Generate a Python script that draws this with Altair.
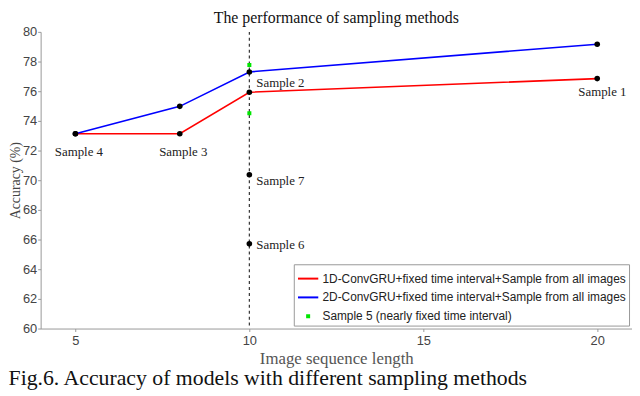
import altair as alt
import pandas as pd

SERIF = "Liberation Serif"
SANS = "Liberation Sans"

# ---- data ----
series_names = [
    "1D-ConvGRU+fixed time interval+Sample from all images",
    "2D-ConvGRU+fixed time interval+Sample from all images",
    "Sample 5 (nearly fixed time interval)",
]
series_colors = ["#ff0000", "#0000ff", "#00e600"]
series_shapes = ["stroke", "stroke", "M-0.1,-0.1H0.1V0.1H-0.1Z"]

len_1d = [5, 8, 10, 20]
acc_1d = [73.13, 73.13, 75.93, 76.85]
len_2d = [5, 8, 10, 20]
acc_2d = [73.13, 74.98, 77.30, 79.17]

s5_len = [10, 10]
s5_acc = [77.76, 74.52]

other_len = [10, 10]          # Sample 7, Sample 6
other_acc = [70.37, 65.71]

dash_x = [10]

lbl_c_text = ["Sample 4", "Sample 3", "Sample 1"]
lbl_c_x = [5.1, 8.1, 20.15]
lbl_c_y = [71.9, 71.9, 75.96]

lbl_l_text = ["Sample 2", "Sample 7", "Sample 6"]
lbl_l_x = [10.2, 10.2, 10.2]
lbl_l_y = [76.57, 69.93, 65.64]

x_ticks = [5, 10, 15, 20]
y_ticks = list(range(60, 81, 2))

# ---- tables ----
lines_df = pd.concat([
    pd.DataFrame({"series": series_names[0], "len": len_1d, "acc": acc_1d}),
    pd.DataFrame({"series": series_names[1], "len": len_2d, "acc": acc_2d}),
])
black_df = pd.DataFrame({"len": len_1d + len_2d + other_len,
                         "acc": acc_1d + acc_2d + other_acc})
s5_df = pd.DataFrame({"series": series_names[2], "len": s5_len, "acc": s5_acc})
dash_df = pd.DataFrame({"len": dash_x})
lc_df = pd.DataFrame({"t": lbl_c_text, "len": lbl_c_x, "acc": lbl_c_y})
ll_df = pd.DataFrame({"t": lbl_l_text, "len": lbl_l_x, "acc": lbl_l_y})

xscale = alt.Scale(domain=[4, 21], nice=False, zero=False)
yscale = alt.Scale(domain=[60, 80], nice=False, zero=False)
cscale = alt.Scale(domain=series_names, range=series_colors)
sscale = alt.Scale(domain=series_names, range=series_shapes)

xaxis = alt.Axis(values=x_ticks, title="Image sequence length", grid=False,
                 tickSize=3, labelPadding=3, titlePadding=3)
yaxis = alt.Axis(values=y_ticks, title="Accuracy (%)", grid=False,
                 tickSize=3, labelPadding=1, titlePadding=0, labelOverlap=False)

X = alt.X("len:Q", scale=xscale, axis=xaxis)
Y = alt.Y("acc:Q", scale=yscale, axis=yaxis)

legend = alt.Legend(title=None, orient="bottom-right", offset=3,
                    labelFont=SANS, labelFontSize=12, labelColor="#222",
                    labelLimit=0,
                    strokeColor="#999", fillColor="white", padding=3,
                    rowPadding=1, labelOffset=3, symbolSize=420,
                    symbolStrokeWidth=2, symbolOpacity=1)

lines = alt.Chart(lines_df).mark_line(strokeWidth=1.6).encode(
    x=X, y=Y,
    color=alt.Color("series:N", scale=cscale, legend=legend),
    detail="series:N",
)

dash = alt.Chart(dash_df).mark_rule(color="#333", strokeDash=[3, 3], strokeWidth=1.2).encode(
    x=X
)

dots = alt.Chart(black_df).mark_circle(size=32, color="black", opacity=1).encode(
    x=X, y=Y
)

greens = alt.Chart(s5_df).mark_point(filled=False, strokeWidth=2, opacity=1, size=420).encode(
    x=X, y=Y,
    color=alt.Color("series:N", scale=cscale, legend=legend),
    shape=alt.Shape("series:N", scale=sscale, legend=legend),
)

lab_c = alt.Chart(lc_df).mark_text(font=SERIF, fontSize=13, align="center",
                                   baseline="middle", color="#222").encode(
    x=X, y=Y, text="t:N")
lab_l = alt.Chart(ll_df).mark_text(font=SERIF, fontSize=13, align="left",
                                   baseline="middle", color="#222").encode(
    x=X, y=Y, text="t:N")

plot = alt.layer(lines, dash, dots, greens, lab_c, lab_l).properties(
    width=598, height=300,
    title=alt.Title("The performance of sampling methods", font=SERIF,
                    fontSize=16, fontWeight="normal", color="#111", offset=0),
)

chart = alt.vconcat(plot).properties(
    title=alt.Title("Fig.6. Accuracy of models with different sampling methods",
                    orient="bottom", anchor="start", frame="bounds",
                    font=SERIF, fontSize=22, fontWeight="normal", color="#111",
                    offset=2),
    padding={"left": 0, "top": 0, "right": 0, "bottom": 0},
).resolve_legend(color="independent", shape="independent").configure_view(
    stroke=None
).configure_axis(
    labelFont=SANS, labelFontSize=13, labelColor="#444",
    titleFont=SERIF, titleFontSize=14, titleFontWeight="normal", titleColor="#444",
    domainColor="#999", tickColor="#999",
).configure_axisX(titleFontSize=17, titleColor="#555")

chart.save("out.html", embed_options={"renderer": "svg", "actions": False})
